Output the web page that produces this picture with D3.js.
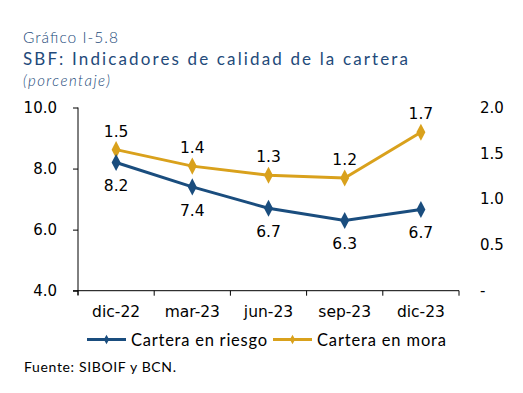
<!DOCTYPE html>
<html><head><meta charset="utf-8">
<script src="https://cdn.jsdelivr.net/npm/d3@7"></script>
<style>body{margin:0;background:#fff}svg{display:block}</style>
</head><body>
<script>
const categories = ["dic-22","mar-23","jun-23","sep-23","dic-23"];
const riesgo = [8.2, 7.4, 6.7, 6.3, 6.66];
const riesgoLabels = ["8.2","7.4","6.7","6.3","6.7"];
const mora = [1.54, 1.36, 1.26, 1.23, 1.73];
const moraLabels = ["1.5","1.4","1.3","1.2","1.7"];
const leftTicks = [4, 6, 8, 10];
const rightTicks = [0, 0.5, 1, 1.5, 2];

const W = 523, H = 393;
const svg = d3.select("body").append("svg").attr("width", W).attr("height", H);
const blue = "#1a4d7e", gold = "#d9a11c", titleBlue = "#234a7a";
const numFont = "DejaVu Sans, Verdana, sans-serif";
const txtFont = "Lato, sans-serif";

function fitText(x, y, str, size, len, color, weight, extra) {
  const t = svg.append("text").attr("x", x).attr("y", y).attr("fill", color)
    .style("font-family", txtFont).style("font-size", size + "px").style("font-weight", weight).text(str)
    .attr("textLength", len).attr("lengthAdjust", "spacing");
  if (extra) extra(t);
  return t;
}
fitText(23, 42.5, "Gráfico I-5.8", 15.5, 95, titleBlue, 300);
fitText(23, 64.5, "SBF: Indicadores de calidad de la cartera", 17, 385, titleBlue, 400);
fitText(23, 86, "(porcentaje)", 15, 87, titleBlue, 300, t => t.style("font-style", "italic"));

const x = d3.scaleBand().domain(categories).range([78, 459]);
const yL = d3.scaleLinear().domain([4, 10]).range([290.7, 107.5]);
const yR = d3.scaleLinear().domain([0, 2]).range([290.7, 107.5]);

const gx = svg.append("g").attr("transform", "translate(0,290.7)")
  .call(d3.axisBottom(x).tickSize(0).tickPadding(15));
gx.select(".domain").attr("stroke", "#000").attr("d", "M73,0H459");
const bounds = categories.map(c => x(c)).concat([459]);
gx.selectAll(".bt").data(bounds).enter().append("line").attr("class","bt")
  .attr("x1", d => d).attr("x2", d => d).attr("y1", 0).attr("y2", 5).attr("stroke", "#000");
gx.selectAll("text").style("font-family", numFont).style("font-size", "15.5px").attr("fill", "#000");

const gl = svg.append("g").attr("transform", "translate(78,0)")
  .call(d3.axisLeft(yL).tickValues(leftTicks).tickFormat(d3.format(".1f")).tickSize(5).tickPadding(16));
gl.select(".domain").attr("stroke", "#000").attr("d", "M0,107.5V295");
gl.selectAll("text").style("font-family", numFont).style("font-size", "15px").attr("fill", "#000");

const gr = svg.append("g").attr("transform", "translate(473,0)")
  .call(d3.axisRight(yR).tickValues(rightTicks).tickFormat(d => d === 0 ? "-" : d3.format(".1f")(d)).tickSize(0).tickPadding(7));
gr.select(".domain").remove();
gr.selectAll("text").style("font-family", numFont).style("font-size", "15px").attr("fill", "#000");

const cx = d => x(d) + x.bandwidth() / 2;
const diamond = d3.symbol().type(d3.symbolDiamond).size(70);

function series(vals, y, color, labels, dy) {
  svg.append("path").datum(vals)
    .attr("d", d3.line().x((d, i) => cx(categories[i])).y(d => y(d)))
    .attr("fill", "none").attr("stroke", color).attr("stroke-width", 3);
  svg.selectAll(null).data(vals).enter().append("path")
    .attr("d", diamond).attr("fill", color)
    .attr("transform", (d, i) => `translate(${cx(categories[i])},${y(d)}) scale(1,1.1)`);
  svg.selectAll(null).data(vals).enter().append("text")
    .attr("x", (d, i) => cx(categories[i])).attr("y", d => y(d) + dy)
    .attr("text-anchor", "middle").style("font-family", numFont).style("font-size", "15.5px")
    .attr("fill", "#000").text((d, i) => labels[i]);
}
series(mora, yR, gold, moraLabels, -13);
series(riesgo, yL, blue, riesgoLabels, 29);

const leg = [{t: "Cartera en riesgo", c: blue, x: 87, w: 136}, {t: "Cartera en mora", c: gold, x: 273, w: 129}];
leg.forEach(l => {
  svg.append("line").attr("x1", l.x).attr("x2", l.x + 39).attr("y1", 339.5).attr("y2", 339.5)
    .attr("stroke", l.c).attr("stroke-width", 3);
  svg.append("path").attr("d", d3.symbol().type(d3.symbolDiamond).size(25)).attr("fill", l.c)
    .attr("transform", `translate(${l.x + 19.5},339.5)`);
  fitText(l.x + 44, 346, l.t, 16.5, l.w, "#000", 400);
});
fitText(24, 372, "Fuente: SIBOIF y BCN.", 14, 152, "#000", 400);
</script>
</body></html>
